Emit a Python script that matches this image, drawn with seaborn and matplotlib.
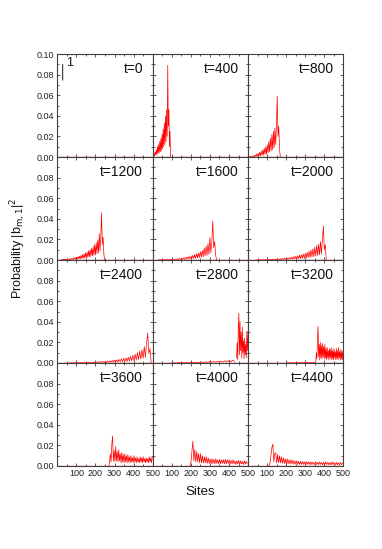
import numpy as np
import matplotlib
matplotlib.use("Agg")
import matplotlib.pyplot as plt
from matplotlib.ticker import MultipleLocator, FormatStrFormatter
import seaborn as sns

# Probability |b_m,1|^2, in units of 1e-3.
# Each segment is (first site, site step) followed by its values.
TIMES = [0, 400, 800, 1200, 1600, 2000, 2400, 2800, 3200, 3600, 4000, 4400]

S0 = (0, 1)
V0 = [0, 1000, 0]

S400 = (1, 3)
V400 = [1, 0.5, 3, 1, 5, 2, 7, 2.5, 10, 3.5, 12, 4, 15, 5, 18, 6, 22, 8, 27, 10,
        33, 12, 40, 15, 46, 20, 89, 30, 46, 10, 25, 0]

S800 = (5, 4)
V800 = [0.2, 0.1, 0.4, 0.1, 0.6, 0.2, 1.1, 0.4, 2, 0.6, 2.8, 0.8, 3.6, 1, 4.5, 1.3,
        5.6, 1.6, 7, 2, 8.3, 2.5, 10, 3, 12, 4, 15, 5, 18, 6, 22, 7, 25, 9, 28, 12,
        32, 59, 20, 30, 8, 0]

S1200 = (20, 4)
V1200 = [0.3, 0.1, 0.5, 0.1, 0.6, 0.2, 0.7, 0.2, 0.9, 0.3, 1.1, 0.3, 1.3, 0.4, 1.5,
         0.5, 1.8, 0.6, 2.3, 0.7, 2.7, 0.8, 3.2, 1, 3.8, 1.2, 4.5, 1.4, 5.2, 1.6, 6,
         1.9, 6.9, 2.2, 7.8, 2.6, 9, 3, 10, 3.5, 11.5, 4, 13, 4.5, 15, 5, 17, 6, 19.5,
         7, 25.5, 9, 22, 45.9, 15, 22, 6, 0]

S1600 = (30, 5)
V1600 = [0.2, 0.1, 0.3, 0.1, 0.35, 0.1, 0.4, 0.1, 0.45, 0.15, 0.5, 0.15, 0.6, 0.2,
         0.7, 0.2, 0.8, 0.3, 1, 0.3, 1.2, 0.4, 1.4, 0.5, 1.7, 0.6, 2.1, 0.7, 2.5, 0.8,
         2.9, 1, 3.4, 1.1, 4, 1.3, 4.6, 1.5, 5.3, 1.7, 6.2, 2, 7, 2.3, 8, 2.7, 9.3,
         3.2, 11.5, 4, 13.5, 4.6, 16, 5.5, 21.7, 7, 18, 37.8, 12, 18, 5, 0]

S2000 = (40, 5)
V2000 = [0.1, 0.05, 0.15, 0.05, 0.2, 0.05, 0.25, 0.1, 0.3, 0.1, 0.35, 0.1, 0.45, 0.15,
         0.5, 0.15, 0.65, 0.2, 0.75, 0.25, 0.85, 0.3, 1, 0.3, 1.1, 0.35, 1.3, 0.4,
         1.5, 0.5, 1.7, 0.55, 1.9, 0.6, 2.2, 0.7, 2.5, 0.8, 2.9, 0.9, 3.3, 1, 3.7,
         1.1, 4.2, 1.3, 4.7, 1.4, 5.2, 1.6, 5.8, 1.8, 6.5, 2, 7.5, 2.3, 8.5, 2.6, 9.8,
         3, 11, 3.4, 12.5, 3.8, 14, 4.3, 15.5, 5, 18, 6, 20, 32.9, 10, 15, 0]

S2400 = (60, 6)
V2400 = [0.1, 0.05, 0.15, 0.05, 0.2, 0.05, 0.25, 0.1, 0.3, 0.1, 0.35, 0.1, 0.4, 0.15,
         0.5, 0.15, 0.6, 0.2, 0.7, 0.2, 0.8, 0.25, 0.9, 0.3, 1.05, 0.35, 1.2, 0.4,
         1.35, 0.45, 1.5, 0.5, 1.7, 0.55, 2, 0.65, 2.3, 0.75, 2.5, 0.8, 2.8, 0.9, 3.1,
         1, 3.5, 1.1, 4, 1.3, 4.5, 1.4, 5, 1.6, 5.6, 1.8, 6.4, 2.1, 7.4, 2.4, 8.5,
         2.8, 10, 3.3, 11.5, 3.8, 13, 4.5, 16, 5.5, 19, 29, 9, 14, 0]

S2800_TAIL = (100, 10)
V2800_TAIL = [0.1, 0.05, 0.15, 0.1, 0.2, 0.1, 0.3, 0.15, 0.4, 0.2, 0.5, 0.25, 0.6, 0.3,
              0.8, 0.4, 1, 0.5, 1.2, 0.6, 1.4, 0.7, 1.6, 0.8, 1.8, 0.9, 2, 1, 2.2,
              1.1, 2.5, 1.2, 2.8, 1.4]
S2800_HEAD = (440, 3)
V2800_HEAD = [5, 20, 3, 35, 48.4, 8, 40, 12, 30, 5, 35, 10, 22, 4, 24, 8, 18, 5, 31,
              12, 28]

S3200_TAIL = (200, 10)
V3200_TAIL = [0.1, 0.05, 0.15, 0.1, 0.2, 0.1, 0.3, 0.15, 0.4, 0.2, 0.5, 0.25, 0.6,
              0.3, 0.8, 0.4]
S3200_HEAD = (355, 3)
V3200_HEAD = [2, 10, 4, 25, 35.4, 6, 18, 3, 20, 5, 17, 4, 19, 6, 16, 4, 18, 5, 14, 3,
              15, 5, 12, 3, 14, 5, 13, 3, 15, 4, 12, 3, 14, 5, 11, 3, 14, 4, 12, 3,
              15, 5, 11, 3, 13, 4, 12, 3, 10]

S3600 = (270, 4)
V3600 = [0, 3, 12, 4, 22, 29, 5, 15, 4, 18.7, 5, 14, 4, 16, 5, 12, 3, 13, 4, 11, 3,
         12, 4, 10, 3, 11, 4, 9, 3, 10, 4, 8, 3, 10, 4, 8, 3, 9, 4, 7, 3, 9, 4, 8, 3,
         9, 4, 7, 3, 8, 4, 7, 3, 9, 4, 8, 3, 9]

S4000 = (196, 5)
V4000 = [0, 4, 15, 24.2, 5, 16, 4, 14, 4, 12, 3, 12, 3, 10, 3, 9, 3, 9, 2.5, 8, 2.5,
         7, 2, 7, 2.5, 6.5, 2, 7, 2.5, 6, 2, 6.5, 2, 6, 2.5, 6, 2, 6.5, 2, 6, 2.5, 6,
         2, 5.5, 2, 6, 2, 5, 1.5, 5, 2, 5.5, 1.5, 5, 2, 4.5, 1.5, 5, 2, 4.5, 2]

S4400 = (110, 5)
V4400 = [0, 3, 10, 18, 21.3, 4, 12, 13, 3, 11, 3, 10, 3, 9, 2.5, 8, 2.5, 7, 2, 7, 2,
         6, 2, 6, 2, 5.5, 1.8, 5, 1.8, 5, 1.5, 4.5, 1.5, 4.5, 1.5, 4.5, 1.5, 4, 1.5,
         4.5, 1.5, 4, 1.5, 4, 1.2, 4, 1.5, 3.5, 1.2, 4, 1.5, 3.5, 1.2, 4, 1.5, 3.5,
         1.2, 3.5, 1.2, 4, 1.5, 3.5, 1.2, 3.5, 1.2, 3.5, 1.2, 4, 1.5, 3, 1.2, 3.5,
         1.2, 3, 1, 3.5, 1.2, 3]

SEGMENTS = {
    0: [(S0, V0)], 400: [(S400, V400)], 800: [(S800, V800)],
    1200: [(S1200, V1200)], 1600: [(S1600, V1600)], 2000: [(S2000, V2000)],
    2400: [(S2400, V2400)],
    2800: [(S2800_TAIL, V2800_TAIL), (S2800_HEAD, V2800_HEAD)],
    3200: [(S3200_TAIL, V3200_TAIL), (S3200_HEAD, V3200_HEAD)],
    3600: [(S3600, V3600)], 4000: [(S4000, V4000)], 4400: [(S4400, V4400)],
}

# ── Style ──────────────────────────────────────────────────────────────────────
sns.set_theme(style="ticks")
plt.rcParams["font.family"] = ["Liberation Sans", "DejaVu Sans"]
SPINE = "#404040"

fig, axes = plt.subplots(4, 3, figsize=(3.82, 5.49), dpi=100)
fig.subplots_adjust(left=0.150, right=0.899, top=0.9016, bottom=0.1512,
                    wspace=0, hspace=0)

for k, t in enumerate(TIMES):
    row, col = divmod(k, 3)
    ax = axes[row, col]
    for (start, step), vals in SEGMENTS[t]:
        vals = np.asarray(vals) * 1e-3
        sites = start + step * np.arange(len(vals))
        sns.lineplot(x=sites, y=vals, ax=ax, color="red", linewidth=0.5,
                     estimator=None, sort=False, legend=False)
    ax.axhline(0, color="red", linewidth=0.9, zorder=3)

    ax.set_xlim(0, 500)
    ax.set_ylim(0, 0.10)
    ax.set_xticks([100, 200, 300, 400, 500])
    ax.xaxis.set_minor_locator(MultipleLocator(50))
    yt = [0, 0.02, 0.04, 0.06, 0.08, 0.10] if row == 0 else [0, 0.02, 0.04, 0.06, 0.08]
    ax.set_yticks(yt)
    ax.yaxis.set_minor_locator(MultipleLocator(0.01))
    ax.yaxis.set_major_formatter(FormatStrFormatter("%.2f"))
    ax.tick_params(which="both", direction="in", top=True, right=True,
                   color=SPINE, width=0.6, labelsize=6.5, pad=2,
                   labelleft=(col == 0), labelbottom=(row == 3), labelcolor="#222222")
    ax.tick_params(which="major", length=2.5)
    ax.tick_params(which="minor", length=1.5)
    ax.set_xlabel("")
    ax.set_ylabel("")
    for sp in ax.spines.values():
        sp.set_color(SPINE)
        sp.set_linewidth(0.8)

    ax.text(0.90, 0.85, f"t={t}", transform=ax.transAxes, ha="right",
            va="center", fontsize=10, color="#111111")

# marker that the t=0 spike reaches 1
a0 = axes[0, 0]
a0.annotate("", xy=(28, 0.072), xytext=(28, 0.0925),
            arrowprops=dict(arrowstyle="-", color="#333333", lw=0.8))
a0.text(45, 0.0975, "1", ha="left", va="top", fontsize=9, color="#111111")

fig.text(0.047, 0.548, r"Probability |b$_{\mathrm{m,1}}$|$^{2}$", rotation=90,
         ha="center", va="center", fontsize=9, color="#111111")
fig.text(0.524, 0.104, "Sites", ha="center", va="center", fontsize=9.5,
         color="#111111")

fig.savefig("out.png", dpi=100)
